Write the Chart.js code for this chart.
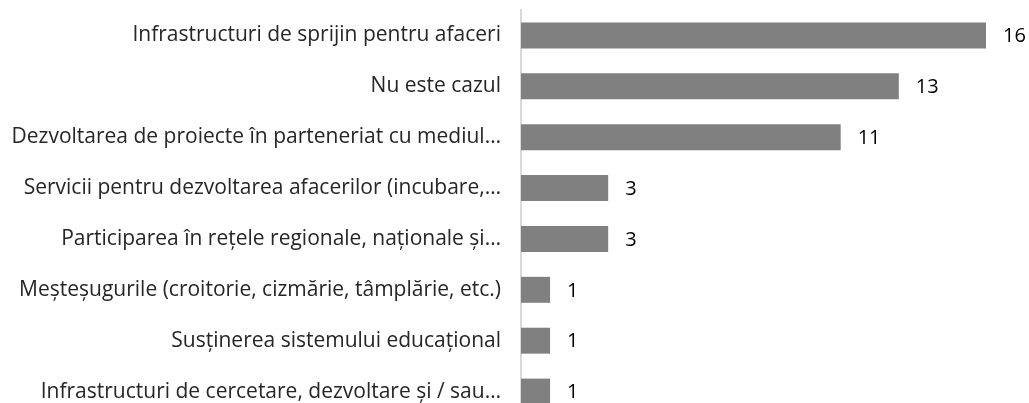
<!DOCTYPE html>
<html>
<head>
<meta charset="utf-8">
<script src="https://cdn.jsdelivr.net/npm/chart.js@4"></script>
<style>
  html, body { margin: 0; padding: 0; background: #fff; overflow: hidden; }
  #wrap { width: 1029px; height: 417px; position: relative; }
</style>
</head>
<body>
<div id="wrap"><canvas id="chart"></canvas></div>
<script>
const categories = [
    'Infrastructuri de sprijin pentru afaceri',
    'Nu este cazul',
    'Dezvoltarea de proiecte în parteneriat cu mediul…',
    'Servicii pentru dezvoltarea afacerilor (incubare,…',
    'Participarea în rețele regionale, naționale și…',
    'Meșteșugurile (croitorie, cizmărie, tâmplărie, etc.)',
    'Susținerea sistemului educațional',
    'Infrastructuri de cercetare, dezvoltare și / sau…'
];
const values = [16, 13, 11, 3, 3, 1, 1, 1];

const fontFamily = '"Open Sans", Lato, sans-serif';
const fontSize = 21;

// etichete cu valori la capatul barelor
const valueLabels = {
    id: 'valueLabels',
    afterDatasetsDraw(chart) {
        const c = chart.ctx;
        const meta = chart.getDatasetMeta(0);
        c.save();
        c.font = '20px ' + fontFamily;
        c.fillStyle = '#000';
        c.textBaseline = 'middle';
        c.textAlign = 'left';
        meta.data.forEach((bar, i) => {
            c.fillText(String(values[i]), bar.x + 17, bar.y + 1);
        });
        c.restore();
    }
};

const ctx = document.getElementById('chart').getContext('2d');
const chart = new Chart(ctx, {
    type: 'bar',
    data: {
        labels: categories,
        datasets: [{
            data: values,
            backgroundColor: '#808080',
            borderWidth: 0,
            barPercentage: 0.51,
            categoryPercentage: 1
        }]
    },
    options: {
        indexAxis: 'y',
        responsive: true,
        maintainAspectRatio: false,
        animation: false,
        layout: { padding: { top: 10, right: 43, bottom: 0, left: 0 } },
        plugins: {
            legend: { display: false },
            tooltip: { enabled: false }
        },
        scales: {
            x: {
                display: false,
                min: 0,
                max: 16
            },
            y: {
                afterFit(scale) {
                    scale.width = 521;
                    scale.paddingTop = 0;
                    scale.paddingBottom = 0;
                },
                grid: { display: false, drawTicks: false },
                border: { display: true, color: '#d9d9d9', width: 2 },
                ticks: {
                    padding: 20,
                    color: '#262626',
                    font: { size: fontSize, family: fontFamily }
                }
            }
        }
    },
    plugins: [valueLabels]
});
</script>
</body>
</html>
